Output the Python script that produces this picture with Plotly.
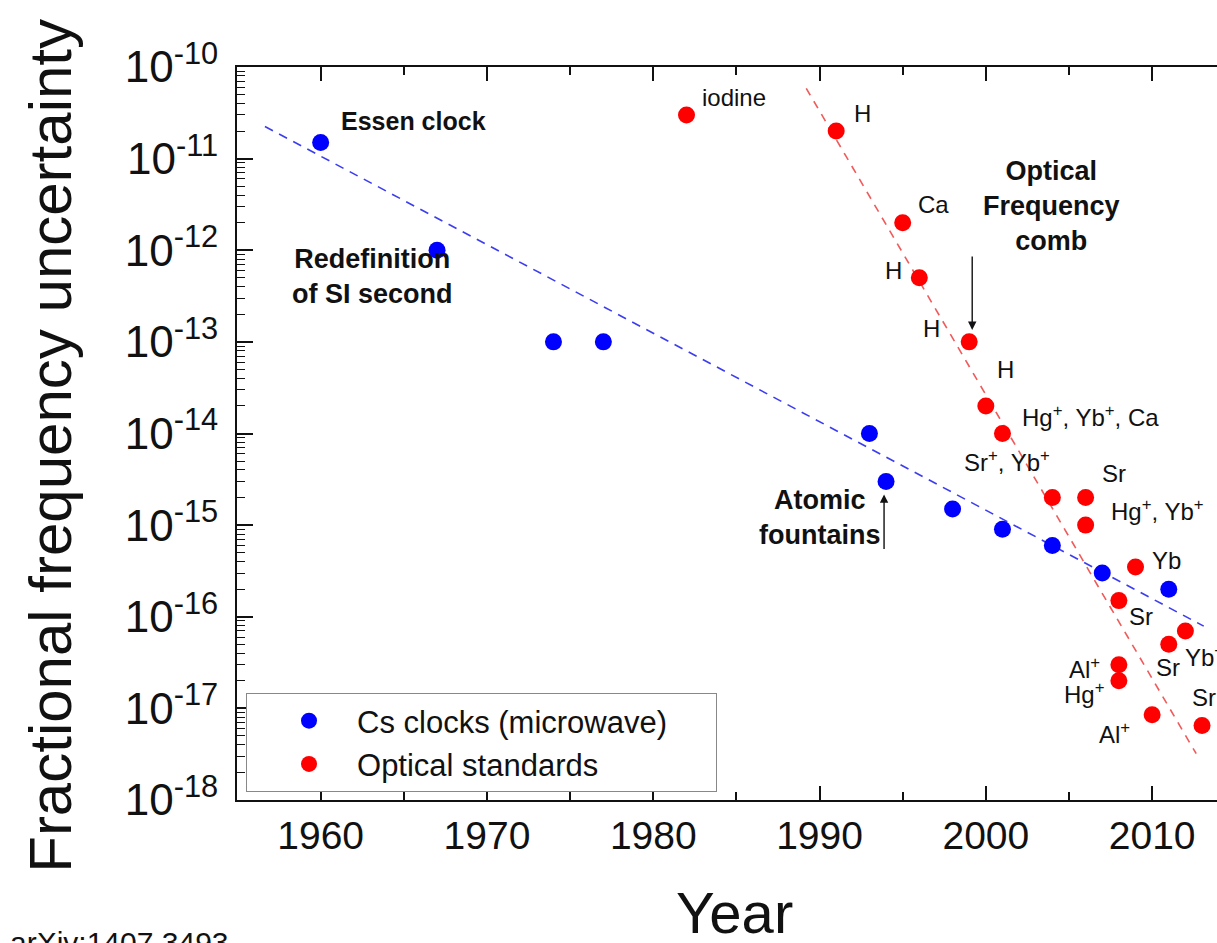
import numpy as np
import plotly.graph_objects as go

# ---------------- data ----------------
cs_years = [1960, 1967, 1974, 1977, 1993, 1994, 1998, 2001, 2004, 2007, 2011]
cs_vals = [1.5e-11, 1e-12, 1e-13, 1e-13, 1e-14, 3e-15, 1.5e-15, 9e-16, 6e-16, 3e-16, 2e-16]

opt_years = [1982, 1991, 1995, 1996, 1999, 2000, 2001, 2004, 2006, 2006,
             2009, 2008, 2012, 2011, 2008, 2008, 2010, 2013]
opt_vals = [3e-11, 2e-11, 2e-12, 5e-13, 1e-13, 2e-14, 1e-14, 2e-15, 2e-15, 1e-15,
            3.5e-16, 1.5e-16, 7e-17, 5e-17, 3e-17, 2e-17, 8.5e-18, 6.5e-18]
opt_labels = ["iodine", "H", "Ca", "H", "H", "H",
              "Hg<sup>+</sup>, Yb<sup>+</sup>, Ca", "Sr<sup>+</sup>, Yb<sup>+</sup>", "Sr",
              "Hg<sup>+</sup>, Yb<sup>+</sup>", "Yb", "Sr", "Yb<sup>+</sup>", "Sr",
              "Al<sup>+</sup>", "Hg<sup>+</sup>", "Al<sup>+</sup>", "Sr"]

cs_fit_years = [1956.65, 2013.1]
cs_fit_vals = [2.24e-11, 7.9e-17]
opt_fit_years = [1989.2, 2012.65]
opt_fit_vals = [5.85e-11, 3.2e-18]

ytick_exps = [-18, -17, -16, -15, -14, -13, -12, -11, -10]
xtick_years = [1960, 1970, 1980, 1990, 2000, 2010]

# ---------------- styling (label placement in pixels) ----------------
label_style = [  # (xanchor, xshift, yshift)
    ("left", 13, 17), ("left", 16, 18), ("left", 13, 18), ("right", -15, 7),
    ("right", -27, 13), ("left", 9, 36), ("left", 18, 18), ("center", -45, 37),
    ("left", 14, 24), ("left", 23, 15), ("left", 14, 6), ("left", 8, -16),
    ("left", -2, -25), ("center", -1, -23), ("right", -17, -3), ("right", -12, -12),
    ("right", -20, -18), ("left", -12, 28),
]

FONT = "Liberation Sans, Arial, Helvetica, sans-serif"
PAD = "\u00a0" * 5  # widens the legend box to match the reference frame

fig = go.Figure()

fig.add_trace(go.Scatter(
    x=cs_fit_years, y=cs_fit_vals, mode="lines", showlegend=False, hoverinfo="skip",
    line=dict(color="#3c3cf0", width=1.6, dash="9px,7px")))
fig.add_trace(go.Scatter(
    x=opt_fit_years, y=opt_fit_vals, mode="lines", showlegend=False, hoverinfo="skip",
    line=dict(color="#f05a5a", width=1.6, dash="8px,7px")))

fig.add_trace(go.Scatter(
    x=cs_years, y=cs_vals, mode="markers", name="Cs clocks (microwave)" + PAD,
    marker=dict(color="#0000ff", size=17)))
fig.add_trace(go.Scatter(
    x=opt_years, y=opt_vals, mode="markers", name="Optical standards",
    marker=dict(color="#ff0000", size=17)))

annotations = []
for yr, v, lab, (xa, xs, ys) in zip(opt_years, opt_vals, opt_labels, label_style):
    annotations.append(dict(
        x=yr, y=np.log10(v), xref="x", yref="y", text=lab, showarrow=False,
        xanchor=xa, yanchor="middle", xshift=xs, yshift=ys,
        font=dict(family=FONT, size=24, color="#111")))

bold = dict(family=FONT, size=27, color="#111")
annotations += [
    dict(x=cs_years[0], y=np.log10(cs_vals[0]), xref="x", yref="y",
         text="<b>Essen clock</b>", showarrow=False, xanchor="left",
         xshift=18, yshift=21, font=dict(family=FONT, size=25, color="#111")),
    dict(x=cs_years[1], y=np.log10(cs_vals[1]), xref="x", yref="y",
         text="<b>Redefinition<br>of SI second</b>", showarrow=False,
         xanchor="center", yanchor="middle", xshift=-65, yshift=-26, font=bold),
    dict(x=opt_years[4], y=np.log10(opt_vals[4]), xref="x", yref="y",
         text="<b>Optical<br>Frequency<br>comb</b>", showarrow=False,
         xanchor="center", yanchor="middle", xshift=82, yshift=136, font=bold),
    dict(x=cs_years[5], y=np.log10(cs_vals[5]), xref="x", yref="y",
         text="<b>Atomic<br>fountains</b>", showarrow=False,
         xanchor="center", yanchor="middle", xshift=-66, yshift=-36, font=bold),
    # arrows
    dict(x=opt_years[4], y=np.log10(opt_vals[4]), xref="x", yref="y", text="",
         showarrow=True, ax=0, ay=-87, axref="pixel", ayref="pixel", xshift=3,
         arrowhead=2, arrowsize=1.2, arrowwidth=1.4, arrowcolor="#111", standoff=12),
    dict(x=cs_years[5], y=np.log10(cs_vals[5]), xref="x", yref="y", text="",
         showarrow=True, ax=0, ay=69, axref="pixel", ayref="pixel", xshift=-2,
         arrowhead=2, arrowsize=1.2, arrowwidth=1.4, arrowcolor="#111", standoff=13),
    # axis titles and source
    dict(x=-0.19, y=0.483, xref="paper", yref="paper", text="Fractional frequency uncertainty",
         showarrow=False, textangle=-90, xanchor="center", yanchor="middle",
         font=dict(family=FONT, size=60, color="#111")),
    dict(x=0.508, y=-0.153, xref="paper", yref="paper", text="Year",
         showarrow=False, xanchor="center", yanchor="middle",
         font=dict(family=FONT, size=58, color="#111")),
    dict(x=-0.2337, y=-0.169, xref="paper", yref="paper", text="arXiv:1407.3493",
         showarrow=False, xanchor="left", yanchor="top",
         font=dict(family=FONT, size=30, color="#111")),
]

minor_y = [k * 10.0 ** e for e in ytick_exps[:-1] for k in range(2, 10)]

fig.update_layout(
    width=1217, height=943,
    margin=dict(l=237, r=0, t=67, b=143),
    plot_bgcolor="white", paper_bgcolor="white",
    font=dict(family=FONT, color="#111"),
    showlegend=True,
    legend=dict(x=0.0092, y=0.146, xanchor="left", yanchor="top",
                bordercolor="#888", borderwidth=1, bgcolor="white",
                font=dict(family=FONT, size=31, color="#111"),
                itemwidth=86, tracegroupgap=0, indentation=14),
    annotations=annotations,
    xaxis=dict(range=[1954.97, 2013.9], tickmode="array", tickvals=xtick_years,
               ticks="inside", ticklen=14, tickwidth=1.5, tickcolor="#111",
               showline=True, linecolor="#111", linewidth=2, mirror="ticks",
               showgrid=False, zeroline=False,
               tickfont=dict(family=FONT, size=39, color="#111"),
               minor=dict(dtick=5, tick0=1955, ticks="inside", ticklen=8,
                          tickwidth=1.5, tickcolor="#111", showgrid=False)),
    yaxis=dict(type="log", range=[-18, -10], tickmode="array",
               tickvals=[10.0 ** e for e in ytick_exps],
               ticktext=[f"10<sup>{e}</sup>" for e in ytick_exps],
               ticks="inside", ticklen=16, tickwidth=1.5, tickcolor="#111",
               showline=True, linecolor="#111", linewidth=2, mirror=False,
               showgrid=False, zeroline=False, ticklabelstandoff=8,
               tickfont=dict(family=FONT, size=44, color="#111"),
               minor=dict(tickmode="array", tickvals=minor_y, ticks="inside",
                          ticklen=8, tickwidth=1.2, tickcolor="#111", showgrid=False)),
)

fig.write_html("out.html")
